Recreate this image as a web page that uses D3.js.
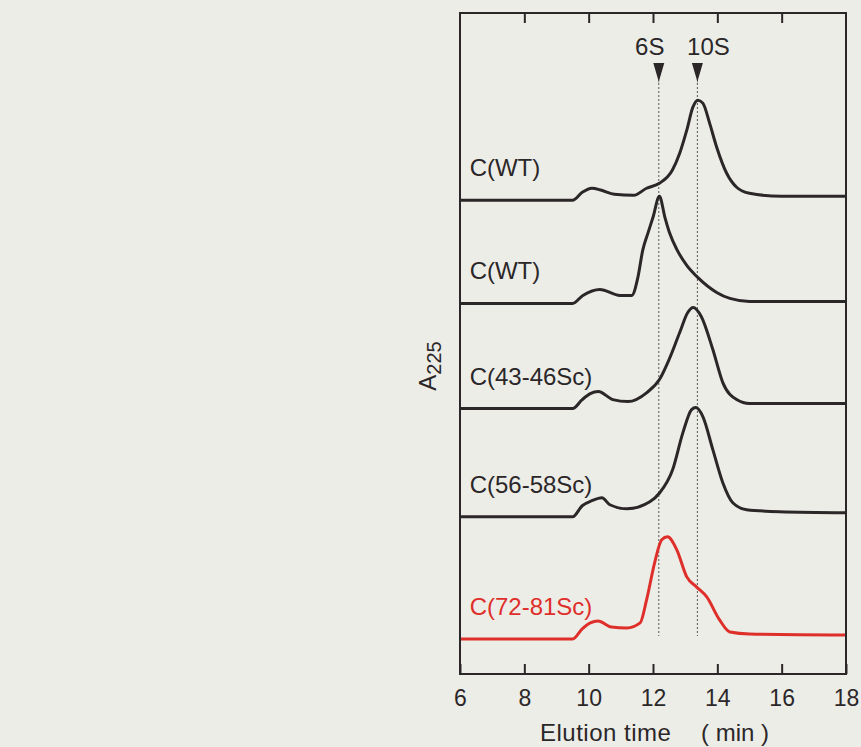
<!DOCTYPE html>
<html>
<head>
<meta charset="utf-8">
<script src="https://cdn.jsdelivr.net/npm/d3@7"></script>
<style>
  html, body { margin: 0; padding: 0; background: #edede7; }
  svg { display: block; }
  text { font-family: "Liberation Sans", Arial, sans-serif; fill: #2b2729; }
</style>
</head>
<body>
<div id="chart"></div>
<script>
// elution profiles, A225 in arbitrary units above each trace baseline
let names = ["C(WT)", "C(WT)", "C(43-46Sc)", "C(56-58Sc)", "C(72-81Sc)"];
let offsets = [4.73, 3.70, 2.65, 1.57, 0.35];

let times1 = [6, 9.5, 9.8, 10.1, 10.4, 10.8, 11.4, 11.8, 12.2, 12.6, 12.83, 13.05, 13.24, 13.39, 13.55, 13.76, 13.98, 14.29, 14.6, 15.0, 16, 18];
let values1 = [0, 0, 0.08, 0.12, 0.10, 0.06, 0.05, 0.12, 0.17, 0.30, 0.47, 0.70, 0.93, 1.00, 0.97, 0.77, 0.53, 0.27, 0.13, 0.07, 0.04, 0.04];

let times2 = [6, 9.5, 9.82, 10.35, 10.97, 11.34, 11.53, 11.68, 11.84, 12.0, 12.2, 12.37, 12.52, 12.74, 13.05, 13.39, 13.98, 14.39, 15, 18];
let values2 = [0, 0, 0.08, 0.14, 0.08, 0.08, 0.26, 0.53, 0.70, 0.86, 1.07, 0.86, 0.70, 0.54, 0.38, 0.26, 0.11, 0.05, 0.02, 0.02];

let times3 = [6, 9.5, 9.8, 10.05, 10.3, 10.75, 11.22, 11.81, 12.2, 12.5, 12.83, 13.08, 13.25, 13.5, 13.86, 14.17, 14.6, 15.0, 18];
let values3 = [0, 0, 0.09, 0.15, 0.17, 0.09, 0.07, 0.16, 0.29, 0.49, 0.76, 0.96, 1.01, 0.92, 0.59, 0.26, 0.09, 0.05, 0.05];

let times4 = [6, 9.5, 9.8, 10.1, 10.41, 10.66, 11.19, 11.9, 12.21, 12.61, 12.93, 13.2, 13.33, 13.55, 13.86, 14.17, 14.48, 14.91, 15.94, 18];
let values4 = [0, 0, 0.11, 0.16, 0.19, 0.12, 0.08, 0.15, 0.24, 0.47, 0.84, 1.07, 1.09, 1.00, 0.67, 0.34, 0.14, 0.07, 0.05, 0.04];

let times5 = [6, 9.5, 9.8, 10.05, 10.29, 10.7, 11.19, 11.6, 11.8, 12.05, 12.27, 12.45, 12.74, 13.05, 13.35, 13.67, 14.07, 14.39, 15, 18];
let values5 = [0, 0, 0.10, 0.16, 0.18, 0.12, 0.11, 0.16, 0.39, 0.76, 0.99, 1.02, 0.89, 0.62, 0.52, 0.42, 0.19, 0.07, 0.05, 0.04];

let markerNames = ["6S", "10S"];
let markerTimes = [12.18, 13.38];

let xTicks = [6, 8, 10, 12, 14, 16, 18];

let allTimes = [times1, times2, times3, times4, times5];
let allValues = [values1, values2, values3, values4, values5];

/** layout **/
let W = 861, H = 747;
let margin = {top: 13, right: 15, bottom: 73, left: 460},
    width = W - margin.left - margin.right,
    height = H - margin.top - margin.bottom;

let svg = d3.select("#chart").append("svg")
    .attr("width", W)
    .attr("height", H);

let g = svg.append("g")
    .attr("transform", "translate(" + margin.left + "," + margin.top + ")");

let xScale = d3.scaleLinear().domain([6, 18]).range([0, width]);
let yScale = d3.scaleLinear().domain([0, 6.6]).range([height, 0]);

let ink = "#2b2729";
let red = "#df2f2b";

// marker dashed lines + triangles
markerTimes.forEach(function(t, i) {
  g.append("line")
      .attr("x1", xScale(t)).attr("x2", xScale(t))
      .attr("y1", 70).attr("y2", yScale(0.38))
      .attr("stroke", "#555")
      .attr("stroke-width", 1)
      .attr("stroke-dasharray", "2,2");

  g.append("path")
      .attr("d", "M-5.5,0 L5.5,0 L0.8,16 L0,20 L-0.8,16 Z")
      .attr("transform", "translate(" + xScale(t) + ",50)")
      .attr("fill", ink);

  g.append("text")
      .attr("x", xScale(t) + (i === 0 ? -9 : 11))
      .attr("y", 42)
      .attr("text-anchor", "middle")
      .style("font-size", "24px")
      .text(markerNames[i]);
});

// traces
let line = d3.line()
    .x(function(d) { return xScale(d[0]); })
    .y(function(d) { return yScale(d[1]); })
    .curve(d3.curveMonotoneX);

allTimes.forEach(function(ts, i) {
  let pts = ts.map(function(t, j) { return [t, allValues[i][j] + offsets[i]]; });
  let col = i === 4 ? red : ink;
  g.append("path")
      .datum(pts)
      .attr("fill", "none")
      .attr("stroke", col)
      .attr("stroke-width", 3)
      .attr("stroke-linejoin", "round")
      .attr("d", line);

  g.append("text")
      .attr("x", xScale(6.3))
      .attr("y", yScale(offsets[i] + 0.24))
      .style("font-size", "24px")
      .style("fill", col)
      .text(names[i]);
});

// frame
g.append("rect")
    .attr("width", width).attr("height", height)
    .attr("fill", "none")
    .attr("stroke", ink)
    .attr("stroke-width", 2);

let xAxis = d3.axisBottom(xScale)
    .tickValues(xTicks)
    .tickSizeInner(-10)
    .tickSizeOuter(0)
    .tickPadding(16)
    .tickFormat(d3.format("d"));

let xAxis_g = g.append("g")
    .attr("class", "x axis")
    .attr("transform", "translate(0," + height + ")")
    .call(xAxis);

let topAxis = d3.axisTop(xScale)
    .tickValues(xTicks.slice(1, -1))
    .tickSizeInner(-10)
    .tickSizeOuter(0)
    .tickFormat("");

let topAxis_g = g.append("g")
    .attr("class", "x axis top")
    .call(topAxis);

[xAxis_g, topAxis_g].forEach(function(a) {
  a.select(".domain").remove();
  a.selectAll("line").attr("stroke", ink).attr("stroke-width", 2);
  a.selectAll("text")
      .style("font-size", "23px")
      .style("font-family", "'Liberation Sans', Arial, sans-serif")
      .attr("fill", ink);
});

// axis titles
let xt = svg.append("text")
    .attr("y", 741)
    .style("font-size", "24px");
xt.append("tspan").attr("x", 540).style("letter-spacing", "0.5px").text("Elution time");
xt.append("tspan").attr("x", 701).text("( min )");

let yt = svg.append("text")
    .attr("transform", "translate(436,366) rotate(-90)")
    .attr("text-anchor", "middle")
    .style("font-size", "24px");
yt.append("tspan").text("A");
yt.append("tspan")
    .attr("dy", 5)
    .style("font-size", "20px")
    .text("225");
</script>
</body>
</html>
